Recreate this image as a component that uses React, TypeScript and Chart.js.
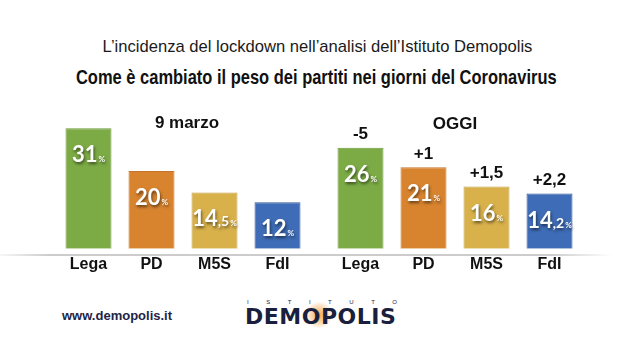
import React, { useEffect, useLayoutEffect, useRef } from "react";
import { Chart, registerables } from "chart.js";

Chart.register(...registerables);

const parties = ["Lega", "PD", "M5S", "FdI"];
const march9Values = [31, 20, 14.5, 12];
const todayValues = [26, 21, 16, 14.2];
const todayDeltas = ["-5", "+1", "+1,5", "+2,2"];
const groupTitles = ["9 marzo", "OGGI"];
const barColors = ["#7cab45", "#d8842f", "#d8b14b", "#3e6cb6"];
const barBorders = ["#6b9838", "#c4732a", "#c49d3d", "#34599b"];
const Y_MAX = 37;

const valueLabelPlugin = {
  id: "valueLabels",
  afterDatasetsDraw(chart: any, _args: any, opts: any) {
    const ctx = chart.ctx;
    const meta = chart.getDatasetMeta(0);
    const values = chart.data.datasets[0].data as number[];
    const deltas: string[] = (opts && opts.deltas) || [];
    meta.data.forEach((bar: any, i: number) => {
      const v = values[i];
      const parts = String(v).split(".");
      const big = parts[0];
      const small = parts[1] ? "," + parts[1] : "";
      const pct = "%";
      ctx.save();
      const bigFont = "700 22px Lato, 'Open Sans', sans-serif";
      const smallFont = "700 14px Lato, 'Open Sans', sans-serif";
      const pctFont = "700 8px Lato, 'Open Sans', sans-serif";
      ctx.font = bigFont;
      const wBig = ctx.measureText(big).width;
      ctx.font = smallFont;
      const wSmall = small ? ctx.measureText(small).width : 0;
      ctx.font = pctFont;
      const wPct = ctx.measureText(pct).width;
      const total = wBig + wSmall + wPct + 1;
      let x = bar.x - total / 2;
      const baseY = bar.y + 34;
      ctx.textAlign = "left";
      ctx.textBaseline = "alphabetic";
      ctx.shadowColor = "rgba(0,0,0,0.55)";
      ctx.shadowBlur = 3;
      ctx.shadowOffsetX = 1;
      ctx.shadowOffsetY = 2;
      ctx.fillStyle = "#ffffff";
      ctx.font = bigFont;
      ctx.fillText(big, x, baseY);
      x += wBig;
      if (small) {
        ctx.font = smallFont;
        ctx.fillText(small, x, baseY);
        x += wSmall;
      }
      x += 1;
      ctx.font = pctFont;
      ctx.fillText(pct, x, baseY);
      ctx.restore();
      if (deltas[i]) {
        ctx.save();
        ctx.fillStyle = "#111111";
        ctx.font = "700 17px 'Liberation Sans', Arial, sans-serif";
        ctx.textAlign = "center";
        ctx.textBaseline = "middle";
        ctx.fillText(deltas[i], bar.x, bar.y - 13);
        ctx.restore();
      }
    });
  },
};

function BarGroup({ values, deltas, left, top }: { values: number[]; deltas?: string[]; left: number; top: number }) {
  const ref = useRef<HTMLCanvasElement | null>(null);
  useEffect(() => {
    if (!ref.current) return;
    const chart = new Chart(ref.current, {
      type: "bar",
      data: {
        labels: parties,
        datasets: [
          {
            data: values,
            backgroundColor: barColors,
            borderColor: barBorders,
            borderWidth: 1,
            barPercentage: 0.73,
            categoryPercentage: 1,
          },
        ],
      },
      options: {
        responsive: false,
        animation: false,
        layout: { padding: 0 },
        plugins: {
          legend: { display: false },
          tooltip: { enabled: false },
          title: { display: false },
          valueLabels: { deltas: deltas || [] },
        } as any,
        scales: {
          x: {
            grid: { display: false, drawTicks: false },
            border: { display: false },
            ticks: {
              color: "#111111",
              padding: 6,
              font: { family: "'Liberation Sans', Arial, sans-serif", size: 16, weight: "bold" },
            },
          },
          y: { display: false, min: 0, max: Y_MAX },
        },
      },
      plugins: [valueLabelPlugin],
    });
    return () => chart.destroy();
  }, []);
  return (
    <canvas
      ref={ref}
      width={252}
      height={175}
      style={{ position: "absolute", left, top, width: 252, height: 175 }}
    />
  );
}

function FitText({ text, width, style }: { text: string; width: number; style: React.CSSProperties }) {
  const ref = useRef<HTMLSpanElement | null>(null);
  useLayoutEffect(() => {
    const el = ref.current;
    if (!el) return;
    el.style.transform = "none";
    const w = el.offsetWidth;
    if (w > 0) el.style.transform = `scaleX(${width / w})`;
  }, [text, width]);
  return (
    <span
      ref={ref}
      style={{ display: "inline-block", whiteSpace: "nowrap", transformOrigin: "center center", ...style }}
    >
      {text}
    </span>
  );
}

export default function App() {
  const sans = "'Liberation Sans', Arial, sans-serif";
  return (
    <div
      style={{
        position: "fixed",
        left: 0,
        top: 0,
        width: 635,
        height: 357,
        background: "#ffffff",
        overflow: "hidden",
        fontFamily: sans,
      }}
    >
      <div
        style={{
          position: "absolute",
          left: 0,
          top: 37,
          width: 635,
          textAlign: "center",
          fontSize: 16.6,
          lineHeight: "20px",
          color: "#1a1a1a",
          whiteSpace: "nowrap",
        }}
      >
        L’incidenza del lockdown nell’analisi dell’Istituto Demopolis
      </div>
      <div
        style={{
          position: "absolute",
          left: 0,
          top: 65,
          width: 632,
          textAlign: "center",
          fontSize: 21,
          lineHeight: "24px",
          fontWeight: "bold",
          color: "#111111",
        }}
      >
        <FitText text="Come è cambiato il peso dei partiti nei giorni del Coronavirus" width={481} style={{}} />
      </div>
      <div
        style={{
          position: "absolute",
          left: 0,
          top: 254,
          width: 612,
          height: 2,
          background:
            "linear-gradient(to right, rgba(200,200,200,0.15), #cccccc 8%, #cccccc 90%, rgba(200,200,200,0))",
        }}
      />
      <BarGroup values={march9Values} left={56.5} top={105} />
      <BarGroup values={todayValues} deltas={todayDeltas} left={328.5} top={105} />
      <div
        style={{
          position: "absolute",
          left: 87,
          top: 113,
          width: 200,
          textAlign: "center",
          fontSize: 17,
          lineHeight: "20px",
          fontWeight: "bold",
          color: "#111111",
        }}
      >
        {groupTitles[0]}
      </div>
      <div
        style={{
          position: "absolute",
          left: 355,
          top: 114,
          width: 200,
          textAlign: "center",
          fontSize: 17,
          lineHeight: "20px",
          fontWeight: "bold",
          color: "#111111",
        }}
      >
        {groupTitles[1]}
      </div>
      <div
        style={{
          position: "absolute",
          left: 62,
          top: 308,
          fontSize: 13,
          lineHeight: "16px",
          fontWeight: "bold",
          color: "#1d2447",
        }}
      >
        www.demopolis.it
      </div>
      <div
        style={{
          position: "absolute",
          left: 306,
          top: 302,
          width: 26,
          height: 26,
          borderRadius: "50%",
          background: "radial-gradient(circle, rgba(240,150,40,0.85) 0%, rgba(245,175,90,0.45) 45%, rgba(255,255,255,0) 75%)",
        }}
      />
      <div
        style={{
          position: "absolute",
          left: 247,
          top: 299,
          width: 150,
          display: "flex",
          justifyContent: "space-between",
          fontSize: 6,
          lineHeight: "7px",
          color: "#1d2447",
        }}
      >
        {"ISTITUTO".split("").map((c, i) => (
          <span key={i}>{c}</span>
        ))}
      </div>
      <div
        style={{
          position: "absolute",
          left: 245,
          top: 305,
          fontSize: 22,
          lineHeight: "24px",
          fontWeight: 900,
          letterSpacing: 0.5,
          fontFamily: "'DejaVu Sans', sans-serif",
          color: "#1a1f3d",
        }}
      >
        DEMOPOLIS
      </div>
    </div>
  );
}
